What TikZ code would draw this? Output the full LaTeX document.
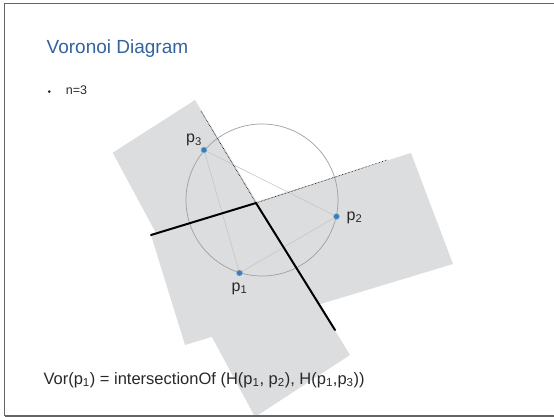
\documentclass[tikz,border=0pt]{standalone}
\usepackage{fontspec}
\setmainfont{Liberation Sans}

\definecolor{titleblue}{RGB}{52,98,158}
\definecolor{planegray}{RGB}{220,221,223}
\definecolor{siteblue}{RGB}{58,125,185}
\definecolor{textgray}{RGB}{40,40,40}
\definecolor{framegray}{RGB}{100,100,100}

\begin{document}
\begin{tikzpicture}[x=1pt, y=-1pt, line join=round,
  site/.style={circle, fill=siteblue, draw=siteblue!55!white, line width=0.5pt,
    inner sep=0pt, minimum size=6pt},
  sitelabel/.style={font=\fontsize{16}{19}\selectfont, text=textgray,
    inner sep=0pt, anchor=base west},
  vedge/.style={line width=2pt, line cap=round},
  vray/.style={line width=0.6pt, dash pattern=on 0.6pt off 0.9pt}]

  \useasboundingbox (0,0) rectangle (554,417);

  % ---------- the two half-planes of p1 ----------
  \fill[planegray] (195,100) -- (350,355) -- (255,417) -- (112.7,152.7) -- cycle;
  \fill[planegray] (151,235) -- (411,153) -- (453,264) -- (185,345) -- cycle;

  % ---------- circumcircle and triangle ----------
  \coordinate (cc) at (262,200);
  \draw[gray!75, line width=0.7pt] (cc) circle[radius=76];

  \coordinate (s1) at (239.5,273);
  \coordinate (s2) at (336.5,216.5);
  \coordinate (s3) at (204,150);
  \draw[gray!45, line width=0.6pt] (s1) -- (s2) -- (s3) -- cycle;

  % ---------- bisectors ----------
  \coordinate (v)  at (256,203);
  \coordinate (e3) at (151,235);
  \coordinate (e2) at (335,330);
  \coordinate (r2) at (201,111);
  \coordinate (r3) at (387,160);
  \draw[vray] (r2) -- (v) -- (r3);
  \draw[vedge] (e3) -- (v) -- (e2);

  % ---------- sites ----------
  \node[site] (p1) at (s1) {};
  \node[site] (p2) at (s2) {};
  \node[site] (p3) at (s3) {};
  \node[sitelabel] (l1) at (231.5,291) {p\textsubscript{1}};
  \node[sitelabel] (l2) at (346.5,220) {p\textsubscript{2}};
  \node[sitelabel] (l3) at (186,142.5) {p\textsubscript{3}};

  % ---------- text ----------
  \node[anchor=base west, inner sep=0pt, text=titleblue,
        font=\fontsize{19}{23}\selectfont] (title) at (46.5,53.3) {Voronoi Diagram};
  \node[circle, fill=textgray, inner sep=0pt, minimum size=3pt]
        (bullet) at (49.3,91.7) {};
  \node[anchor=base west, inner sep=0pt, text=textgray,
        font=\fontsize{12.5}{15}\selectfont] (n) at (65.7,95) {n=3};
  \node[anchor=base west, inner sep=0pt, text=textgray,
        font=\fontsize{16.5}{20}\selectfont] (vor) at (43.3,384)
        {Vor(p\textsubscript{1}) = intersectionOf (H(p\textsubscript{1}, p\textsubscript{2}), H(p\textsubscript{1},p\textsubscript{3}))};

  % ---------- frame ----------
  \draw[framegray, line width=1pt] (556,3.5) -- (4.5,3.5) -- (4.5,415.5);
  \draw[framegray, line width=2pt] (4.5,415.5) -- (556,415.5);

\end{tikzpicture}
\end{document}
